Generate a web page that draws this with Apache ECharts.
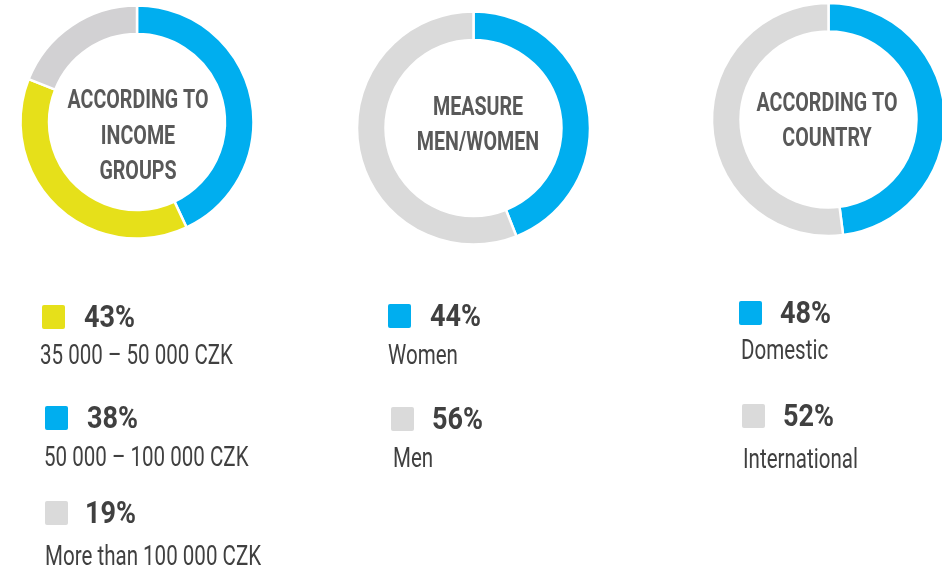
<!DOCTYPE html>
<html>
<head>
<meta charset="utf-8">
<script src="https://cdn.jsdelivr.net/npm/echarts@6/dist/echarts.min.js"></script>
<style>
html,body{margin:0;padding:0;background:#fff;}
#main{width:942px;height:570px;}
</style>
</head>
<body>
<div id="main"></div>
<script>
// ---- data ----
var ringTitles = [
  ['ACCORDING TO', 'INCOME', 'GROUPS'],
  ['MEASURE', 'MEN/WOMEN'],
  ['ACCORDING TO', 'COUNTRY']
];
// ring slices, clockwise from 12 o'clock, as drawn
var ring1Values = [43, 38, 19];
var ring1Colors = ['#00aeef', '#e6e01a', '#d2d1d3'];
var ring2Values = [44, 56];
var ring2Colors = ['#00aeef', '#dadada'];
var ring3Values = [48, 52];
var ring3Colors = ['#00aeef', '#dadada'];

// legends
var legend1Pct = ['43%', '38%', '19%'];
var legend1Labels = ['35 000 – 50 000 CZK', '50 000 – 100 000 CZK', 'More than 100 000 CZK'];
var legend1Colors = ['#e6e01a', '#00aeef', '#dadada'];
var legend2Pct = ['44%', '56%'];
var legend2Labels = ['Women', 'Men'];
var legend2Colors = ['#00aeef', '#dadada'];
var legend3Pct = ['48%', '52%'];
var legend3Labels = ['Domestic', 'International'];
var legend3Colors = ['#00aeef', '#dadada'];

var FONT = 'Roboto, "Noto Sans", sans-serif';
var TITLE_FONT = 'bold 26px ' + FONT;
var PCT_FONT = 'bold 31px ' + FONT;
var LAB_FONT = '27px ' + FONT;

// horizontal condensing so the wide fonts match the narrow original
var cv = document.createElement('canvas').getContext('2d');
function widthOf(font, s) { cv.font = font; return cv.measureText(s).width; }
var TITLE_SX = 141 / widthOf(TITLE_FONT, 'ACCORDING TO');
var PCT_SX = 51 / widthOf(PCT_FONT, '43%');
var LAB_SX = 193 / widthOf(LAB_FONT, '35 000 – 50 000 CZK');

var layout = [
  {c: [137, 122], titleX: 138, titleY: [101, 137, 172],
   leg: [{sq: [42, 305], pct: [84, 319], lab: [40, 357.5]},
         {sq: [45, 406], pct: [87, 420], lab: [44, 459.5]},
         {sq: [45, 501], pct: [85, 515], lab: [45, 558.5]}]},
  {c: [473.5, 128], titleX: 478, titleY: [108, 143],
   leg: [{sq: [388, 304], pct: [430, 318], lab: [388, 357.5]},
         {sq: [391, 407], pct: [432, 421], lab: [393, 460.5]}]},
  {c: [828.5, 119.5], titleX: 827, titleY: [104, 139.5],
   leg: [{sq: [739, 301], pct: [780, 315], lab: [741, 352.5]},
         {sq: [742, 404], pct: [783, 418], lab: [743, 461.5]}]}
];

var rings = [
  {v: ring1Values, c: ring1Colors},
  {v: ring2Values, c: ring2Colors},
  {v: ring3Values, c: ring3Colors}
];
var legends = [
  {p: legend1Pct, l: legend1Labels, c: legend1Colors},
  {p: legend2Pct, l: legend2Labels, c: legend2Colors},
  {p: legend3Pct, l: legend3Labels, c: legend3Colors}
];

var series = rings.map(function (r, i) {
  return {
    type: 'pie',
    center: layout[i].c,
    radius: [88, 116.5],
    startAngle: 90,
    clockwise: true,
    silent: true,
    z: 1,
    label: {show: false},
    labelLine: {show: false},
    itemStyle: {borderColor: '#fff', borderWidth: 2.5},
    data: r.v.map(function (v, k) {
      return {value: v, itemStyle: {color: r.c[k]}};
    })
  };
});

var graphics = [];
ringTitles.forEach(function (lines, i) {
  lines.forEach(function (t, k) {
    graphics.push({
      type: 'text', x: layout[i].titleX, y: layout[i].titleY[k], z: 100,
      scaleX: TITLE_SX,
      style: {text: t, font: TITLE_FONT, fill: '#595959',
              textAlign: 'center', textVerticalAlign: 'middle'}
    });
  });
});
legends.forEach(function (lg, i) {
  lg.p.forEach(function (p, k) {
    var L = layout[i].leg[k];
    graphics.push({
      type: 'rect', z: 100, shape: {x: L.sq[0], y: L.sq[1], width: 23, height: 24, r: 2},
      style: {fill: lg.c[k]}
    });
    graphics.push({
      type: 'text', x: L.pct[0], y: L.pct[1], z: 100, scaleX: PCT_SX,
      style: {text: p, font: PCT_FONT, fill: '#404040',
              textAlign: 'left', textVerticalAlign: 'middle'}
    });
    graphics.push({
      type: 'text', x: L.lab[0], y: L.lab[1], z: 100, scaleX: LAB_SX,
      style: {text: lg.l[k], font: LAB_FONT, fill: '#404040',
              textAlign: 'left', textVerticalAlign: 'middle'}
    });
  });
});

var chart = echarts.init(document.getElementById('main'), null, {renderer: 'canvas'});
chart.setOption({
  animation: false,
  backgroundColor: '#fff',
  series: series,
  graphic: graphics
});
</script>
</body>
</html>
